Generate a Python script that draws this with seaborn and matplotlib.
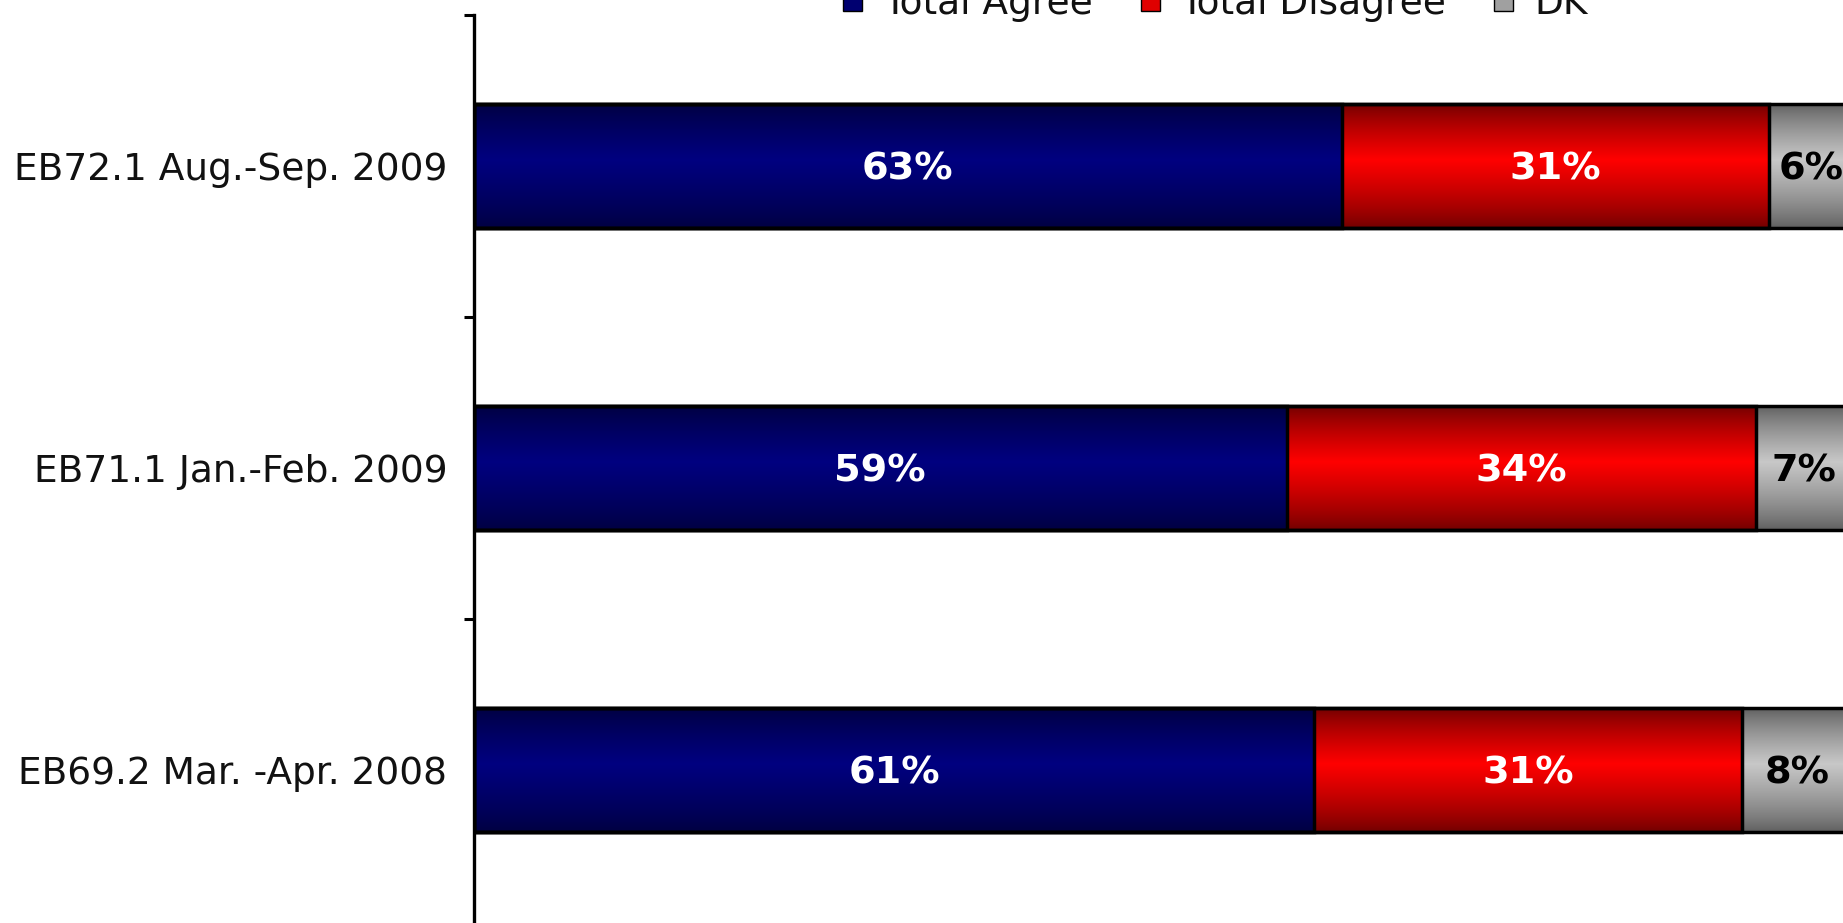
import numpy as np
import pandas as pd
import matplotlib
matplotlib.use("Agg")
import matplotlib.pyplot as plt
import seaborn as sns
from matplotlib.patches import Patch
from matplotlib.ticker import FixedLocator, NullFormatter

# ---- data ----
waves = ["EB72.1 Aug.-Sep. 2009", "EB71.1 Jan.-Feb. 2009", "EB69.2 Mar. -Apr. 2008"]
series = ["Total Agree", "Total Disagree", "DK"]
agree = [63, 59, 61]
disagree = [31, 34, 31]
dk = [6, 7, 8]

# ---- style ----
sns.set_theme(style="white")
plt.rcParams['font.family'] = ['DejaVu Sans']

# gradient colours: (edge, centre)
grad = {
    "Total Agree": ((0x00, 0x00, 0x40), (0x00, 0x00, 0x80)),
    "Total Disagree": ((0x70, 0x00, 0x00), (0xFF, 0x00, 0x00)),
    "DK": ((0x5E, 0x5E, 0x5E), (0xC8, 0xC8, 0xC8)),
}
legend_cols = {"Total Agree": "#000070", "Total Disagree": "#E00000", "DK": "#A0A0A0"}

fig = plt.figure(figsize=(18.43, 9.23), dpi=100)
ax = fig.add_axes([0.2570, -0.0076, 0.7479, 0.9913])

df = pd.DataFrame({"wave": waves, "agree": agree, "disagree": disagree, "dk": dk})
df["cum2"] = df["agree"] + df["disagree"]
df["cum3"] = df["cum2"] + df["dk"]

layers = [("cum3", "DK", 1), ("cum2", "Total Disagree", 2), ("agree", "Total Agree", 3)]


def gradient_array(edge, centre, n=200, peak=0.45):
    t = np.linspace(0, 1, n)
    w = np.where(t < peak, t / peak, (1 - t) / (1 - peak))
    w = np.clip(w, 0, 1) ** 0.8
    e = np.array(edge) / 255.0
    c = np.array(centre) / 255.0
    arr = e[None, :] * (1 - w[:, None]) + c[None, :] * w[:, None]
    return arr[:, None, :]


for col, name, z in layers:
    n0 = len(ax.patches)
    sns.barplot(data=df, y="wave", x=col, orient="h", color=legend_cols[name],
                saturation=1, width=0.41, edgecolor="black", linewidth=2.5, ax=ax)
    for p in ax.patches[n0:]:
        x0, y0 = p.get_x(), p.get_y()
        w, h = p.get_width(), p.get_height()
        img = ax.imshow(gradient_array(*grad[name]), extent=(x0, x0 + w, y0 + h, y0),
                        origin="upper", aspect="auto", interpolation="bilinear", zorder=z)
        img.set_clip_path(p)
        p.set_facecolor("none")
        p.set_zorder(10)

# value labels
for i in range(len(waves)):
    segs = [(0, agree[i], "white"), (agree[i], disagree[i], "white"),
            (agree[i] + disagree[i], dk[i], "black")]
    for left, val, tc in segs:
        ax.text(left + val / 2, i + 0.012, f"{val}%", ha="center", va="center",
                color=tc, fontsize=27.5, fontweight="bold", zorder=12)

ax.set_xlim(0, 100)
ax.set_ylim(2.53, -0.5)

# ticks: marks at category boundaries, labels at centres
ax.yaxis.set_major_locator(FixedLocator([-0.5, 0.5, 1.5]))
ax.yaxis.set_major_formatter(NullFormatter())
ax.set_yticks([0, 1, 2], labels=waves, minor=True)
ax.tick_params(axis="y", which="major", left=True, length=7.5, width=2.2,
               direction="out", color="black")
ax.tick_params(axis="y", which="minor", left=True, length=0, pad=19,
               labelsize=27, labelcolor="#111111")
ax.set_xticks([])
ax.set_xlabel("")
ax.set_ylabel("")

for s in ["top", "right", "bottom"]:
    ax.spines[s].set_visible(False)
ax.spines["left"].set_color("black")
ax.spines["left"].set_linewidth(2.4)
ax.spines["left"].set_zorder(20)

handles = [Patch(facecolor=legend_cols[s], edgecolor="black", linewidth=1) for s in series]
fig.legend(handles, series, loc="center", bbox_to_anchor=(0.6595, 0.996), ncol=3,
           frameon=False, fontsize=27, handlelength=0.5, handleheight=0.5,
           handletextpad=0.56, columnspacing=1.28, labelcolor="#111111")

fig.savefig("out.png", dpi=100)
